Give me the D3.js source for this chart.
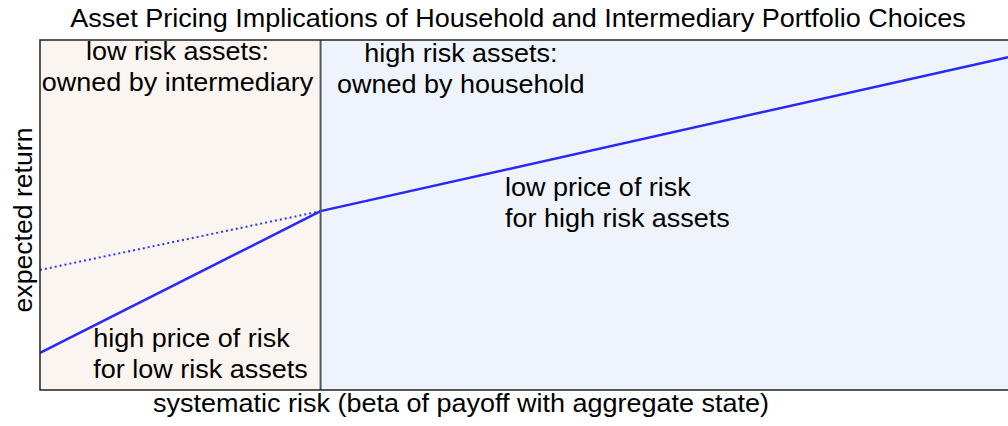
<!DOCTYPE html>
<html>
<head>
<meta charset="utf-8">
<script src="https://cdn.jsdelivr.net/npm/d3@7"></script>
<style>
body { margin: 0; background: #fff; }
text { font-family: "Liberation Sans", Arial, sans-serif; fill: #000; }
</style>
</head>
<body>
<script>
// beta breakpoint between the two regions, and line values
const divider = 1,
    xMax = 3.45,
    steepLine = [[0, 0.106], [1, 0.511]],
    flatLine = [[1, 0.511], [3.45, 0.951]],
    flatExtension = [[0, 0.343], [1, 0.511]],
    labels = [
        {x: 0.49, y: 0.943, lines: ["low risk assets:", "owned by intermediary"], anchor: "middle"},
        {x: 1.5, y: 0.937, lines: ["high risk assets:", "owned by household"], anchor: "middle"},
        {x: 1.657, y: 0.554, lines: ["low price of risk", "for high risk assets"], anchor: "start"},
        {x: 0.19, y: 0.123, lines: ["high price of risk", "for low risk assets"], anchor: "start"}
    ];

const margin = {left: 40, right: 0, top: 40, bottom: 36},
    width = 1008 - margin.left - margin.right,
    height = 426 - margin.top - margin.bottom,
    stretch = 1.08;

const svg = d3.select("body").append("svg")
    .attr("width", 1008).attr("height", 426);

const g = svg.append("g").attr("transform", "translate(" + margin.left + "," + margin.top + ")");

const x = d3.scaleLinear().domain([0, xMax]).range([0, width]),
    y = d3.scaleLinear().domain([0, 1]).range([height, 0]);

g.append("rect")
    .attr("x", x(0)).attr("y", 0)
    .attr("width", x(divider) - x(0)).attr("height", height)
    .attr("fill", "#faf5f0");

g.append("rect")
    .attr("x", x(divider)).attr("y", 0)
    .attr("width", x(xMax) - x(divider)).attr("height", height)
    .attr("fill", "#eff4fc");

const line = d3.line().x(d => x(d[0])).y(d => y(d[1]));

g.append("path").attr("d", line(flatExtension))
    .attr("fill", "none").attr("stroke", "#3333ff")
    .attr("stroke-width", 2).attr("stroke-dasharray", "2,3");

[steepLine, flatLine].forEach(pts => {
    g.append("path").attr("d", line(pts))
        .attr("fill", "none").attr("stroke", "#2626ff")
        .attr("stroke-width", 2.5);
});

g.append("line")
    .attr("x1", x(divider)).attr("x2", x(divider))
    .attr("y1", 0).attr("y2", height)
    .attr("stroke", "#555").attr("stroke-width", 2);

// frame: top, left, bottom (right side runs off the page)
g.append("path")
    .attr("d", "M" + x(xMax) + ",0H0V" + height + "H" + x(xMax))
    .attr("fill", "none").attr("stroke", "#222").attr("stroke-width", 1.5);

// baseline of first line sits at y(l.y)
labels.forEach(l => {
    const t = g.append("text")
        .attr("transform", "translate(" + x(l.x) + "," + y(l.y) + ") scale(" + stretch + ",1)")
        .attr("text-anchor", l.anchor)
        .style("font-size", "25px");
    l.lines.forEach((s, i) => {
        t.append("tspan").attr("x", 0).attr("dy", i ? 31 : 0).text(s);
    });
});

svg.append("text")
    .attr("transform", "translate(518,27) scale(" + stretch + ",1)")
    .attr("text-anchor", "middle")
    .style("font-size", "25px")
    .text("Asset Pricing Implications of Household and Intermediary Portfolio Choices");

svg.append("text")
    .attr("transform", "translate(461,412) scale(" + stretch + ",1)")
    .attr("text-anchor", "middle")
    .style("font-size", "25px")
    .text("systematic risk (beta of payoff with aggregate state)");

svg.append("text")
    .attr("transform", "translate(32,220) rotate(-90) scale(1.065,1)")
    .attr("text-anchor", "middle")
    .style("font-size", "25px")
    .text("expected return");
</script>
</body>
</html>
